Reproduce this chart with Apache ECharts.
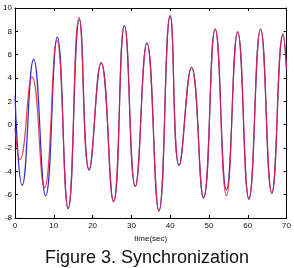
<!DOCTYPE html>
<html>
<head>
<meta charset="utf-8">
<script src="https://cdn.jsdelivr.net/npm/echarts@6/dist/echarts.min.js"></script>
<style>
  html, body { margin: 0; padding: 0; background: #fff; }
  #main { width: 294px; height: 268px; }
</style>
</head>
<body>
<div id="main"></div>
<script>
// values (extrema of each oscillation)
var blueT = [0, 1.85, 4.8, 7.9, 10.9, 13.7, 16.6, 19.1, 22.2, 25.4, 28.2, 31.0, 34.0, 37.1, 40.0, 42.3, 45.5, 48.6, 51.6, 54.5, 57.4, 60.3, 63.3, 66.2, 69.1, 70];
var blueY = [2.5, -5.2, 5.6, -6.1, 7.5, -7.2, 9.0, -3.9, 5.3, -6.6, 8.5, -5.3, 7.0, -7.4, 9.3, -3.5, 4.9, -6.3, 8.2, -5.6, 7.9, -6.4, 8.2, -5.9, 7.7, 4.6];
var redT = [0, 1.3, 4.4, 7.6, 10.8, 13.7, 16.5, 19.1, 22.2, 25.4, 28.2, 31.0, 34.0, 37.1, 40.0, 42.3, 45.5, 48.6, 51.6, 54.5, 57.4, 60.3, 63.3, 66.2, 69.1, 70];
var redY = [-0.3, -3.0, 4.1, -5.4, 7.2, -7.2, 9.2, -3.8, 5.3, -6.6, 8.5, -5.3, 7.0, -7.4, 9.4, -3.5, 4.9, -6.2, 8.2, -6.1, 8.0, -6.3, 8.2, -5.8, 7.8, 4.8];
var xTicks = [0, 10, 20, 30, 40, 50, 60, 70];
var yTicks = [-8, -6, -4, -2, 0, 2, 4, 6, 8, 10];

function pairs(t, y) {
  var out = [];
  for (var i = 0; i < t.length; i++) out.push([t[i], y[i]]);
  return out;
}

var myChart = echarts.init(document.getElementById('main'));
var font = 'Liberation Sans, Arial, sans-serif';
var option = {
  animation: false,
  title: {
    text: 'Figure 3. Synchronization',
    left: 'center',
    top: 244,
    textStyle: { fontFamily: font, fontSize: 18, fontWeight: 'normal', color: '#111' }
  },
  grid: { left: 15, right: 4, top: 8, bottom: 50 },
  xAxis: [{
    type: 'value', min: xTicks[0], max: xTicks[xTicks.length - 1], interval: 10,
    name: 'time(sec)', nameLocation: 'middle', nameGap: 15,
    nameTextStyle: { fontFamily: font, fontSize: 8, color: '#111' },
    axisLine: { onZero: false, lineStyle: { color: '#000', width: 1 } },
    axisTick: { inside: true, length: 3, lineStyle: { color: '#000' } },
    axisLabel: { fontFamily: font, fontSize: 8, color: '#111', margin: 4 },
    splitLine: { show: false }
  }, {
    type: 'value', min: xTicks[0], max: xTicks[xTicks.length - 1], interval: 10, position: 'top',
    axisLine: { onZero: false, lineStyle: { color: '#000', width: 1 } },
    axisTick: { inside: true, length: 3, lineStyle: { color: '#000' } },
    axisLabel: { show: false },
    splitLine: { show: false }
  }],
  yAxis: [{
    type: 'value', min: yTicks[0], max: yTicks[yTicks.length - 1], interval: 2,
    axisLine: { show: true, onZero: false, lineStyle: { color: '#000', width: 1 } },
    axisTick: { show: true, inside: true, length: 3, lineStyle: { color: '#000' } },
    axisLabel: { fontFamily: font, fontSize: 8, color: '#111', margin: 3 },
    splitLine: { show: false }
  }, {
    type: 'value', min: yTicks[0], max: yTicks[yTicks.length - 1], interval: 2, position: 'right',
    axisLine: { show: true, onZero: false, lineStyle: { color: '#000', width: 1 } },
    axisTick: { show: true, inside: true, length: 3, lineStyle: { color: '#000' } },
    axisLabel: { show: false },
    splitLine: { show: false }
  }],
  series: [{
    name: 'master', type: 'line', smooth: 0.5, showSymbol: false,
    data: pairs(blueT, blueY),
    lineStyle: { color: '#2a2ad6', width: 1.2 }
  }, {
    name: 'slave', type: 'line', smooth: 0.5, showSymbol: false,
    data: pairs(redT, redY),
    lineStyle: { color: '#e8203a', width: 1.2, opacity: 0.85 }
  }]
};
myChart.setOption(option);
</script>
</body>
</html>
